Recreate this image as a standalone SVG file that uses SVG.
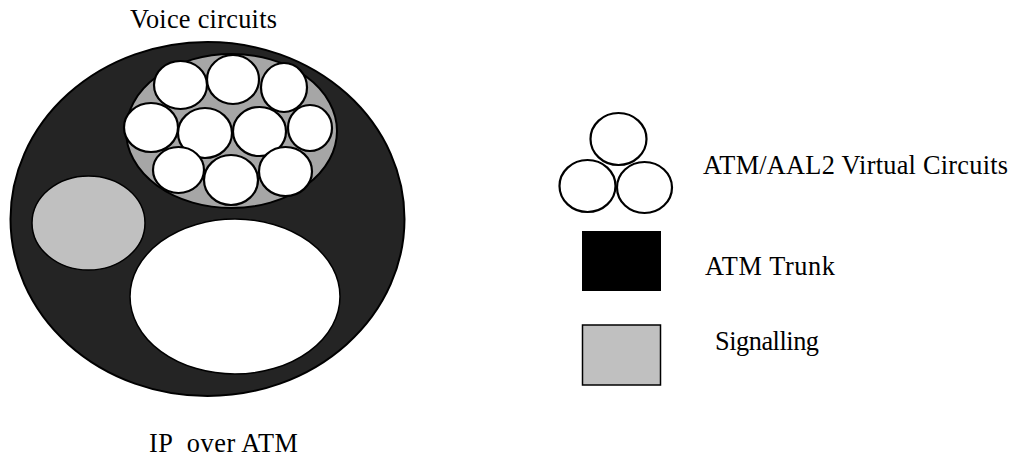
<svg xmlns="http://www.w3.org/2000/svg" width="1009" height="456" viewBox="0 0 1009 456">
<style>
text{font-family:"Liberation Serif","Times New Roman",serif;font-size:26.3px;fill:#000;white-space:pre}
.vc{fill:#fff;stroke:#000;stroke-width:2.2}
</style>
<rect width="1009" height="456" fill="#fff"/>
<g id="trunk">
<ellipse cx="207.5" cy="219" rx="197" ry="177" fill="#242424" stroke="#000" stroke-width="2"/>
</g>
<g id="voice-bundle">
<ellipse cx="231.5" cy="131" rx="105.5" ry="77" fill="#a6a6a6" stroke="#000" stroke-width="2"/>
<ellipse class="vc" cx="180.5" cy="85" rx="26.5" ry="24"/>
<ellipse class="vc" cx="233" cy="79.5" rx="26" ry="24.5"/>
<ellipse class="vc" cx="284" cy="87.5" rx="23" ry="24.5"/>
<ellipse class="vc" cx="151" cy="127.5" rx="27" ry="24.5"/>
<ellipse class="vc" cx="205" cy="133" rx="27" ry="25"/>
<ellipse class="vc" cx="259.5" cy="131.5" rx="26.5" ry="24.5"/>
<ellipse class="vc" cx="310" cy="128" rx="22" ry="23"/>
<ellipse class="vc" cx="178.5" cy="170" rx="25.5" ry="23"/>
<ellipse class="vc" cx="231" cy="180" rx="27" ry="25"/>
<ellipse class="vc" cx="285.5" cy="171.5" rx="26.5" ry="24.5"/>
</g>
<g id="signalling">
<ellipse cx="88.5" cy="223" rx="56.5" ry="47" fill="#c0c0c0" stroke="#000" stroke-width="1.5"/>
</g>
<g id="ip">
<ellipse cx="235" cy="296.5" rx="105" ry="77.5" fill="#fff" stroke="#000" stroke-width="1.5"/>
</g>
<g id="legend-vc">
<ellipse class="vc" cx="618.5" cy="139" rx="28" ry="26"/>
<ellipse class="vc" cx="587.5" cy="186" rx="28" ry="26"/>
<ellipse class="vc" cx="644.5" cy="187.5" rx="27.5" ry="25.5"/>
</g>
<g id="legend-trunk">
<rect x="582" y="231" width="79" height="60" fill="#000"/>
</g>
<g id="legend-sig">
<rect x="582.5" y="325" width="78" height="60" fill="#c0c0c0" stroke="#000" stroke-width="1.5"/>
</g>
<g id="connectors"/>
<g id="labels">
<text x="130" y="28" textLength="147">Voice circuits</text>
<text x="149" y="452" textLength="149">IP  over ATM</text>
<text x="703" y="174" textLength="305">ATM/AAL2 Virtual Circuits</text>
<text x="705" y="275" textLength="130">ATM Trunk</text>
<text x="715" y="350" textLength="104">Signalling</text>
</g>
</svg>
